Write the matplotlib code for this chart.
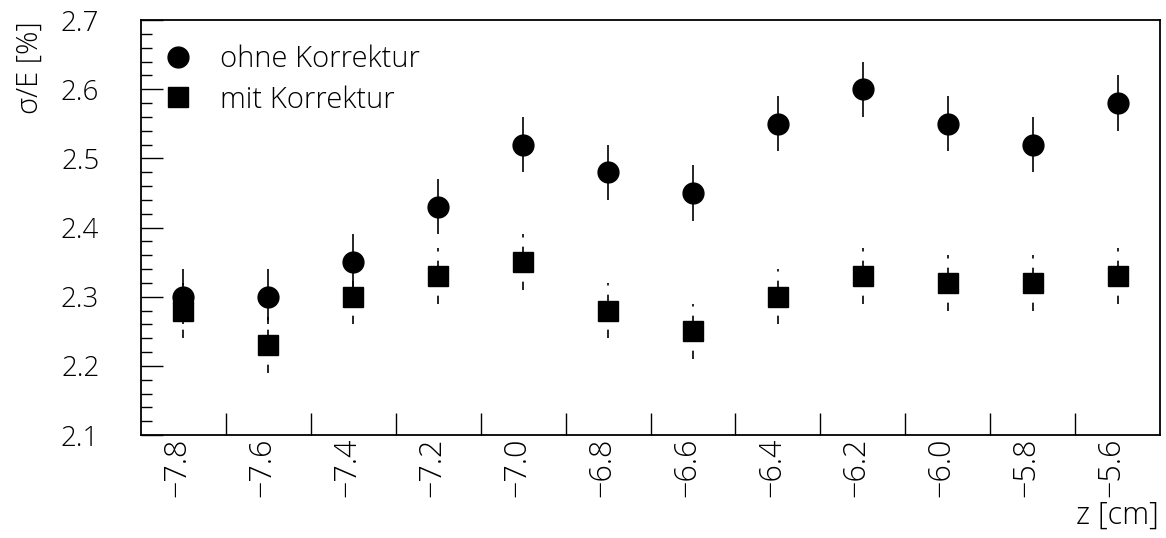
import numpy as np
import matplotlib
matplotlib.use("Agg")
import matplotlib.pyplot as plt
import matplotlib.transforms as mtransforms
from matplotlib.lines import Line2D

# bin centres in z and the two resolution series
z = [-7.8, -7.6, -7.4, -7.2, -7.0, -6.8, -6.6, -6.4, -6.2, -6.0, -5.8, -5.6]
ohne = [2.30, 2.30, 2.35, 2.43, 2.52, 2.48, 2.45, 2.55, 2.60, 2.55, 2.52, 2.58]
ohne_err = [0.04, 0.04, 0.04, 0.04, 0.04, 0.04, 0.04, 0.04, 0.04, 0.04, 0.04, 0.04]
mit = [2.28, 2.23, 2.30, 2.33, 2.35, 2.28, 2.25, 2.30, 2.33, 2.32, 2.32, 2.33]
mit_err = [0.04, 0.04, 0.04, 0.04, 0.04, 0.04, 0.04, 0.04, 0.04, 0.04, 0.04, 0.04]
z_labels = ["\u22127.8", "\u22127.6", "\u22127.4", "\u22127.2", "\u22127.0", "\u22126.8",
            "\u22126.6", "\u22126.4", "\u22126.2", "\u22126.0", "\u22125.8", "\u22125.6"]

plt.rcParams['font.family'] = ['Open Sans', 'DejaVu Sans']
plt.rcParams['font.weight'] = 300

fig = plt.figure(figsize=(11.66, 5.38), dpi=100)
ax = fig.add_axes([0.1209, 0.1914, 0.8740, 0.7714])

ms = 15
ax.errorbar(z, ohne, yerr=ohne_err, fmt='o', color='black', ms=ms,
            elinewidth=1.2, capsize=0, zorder=3)
eb = ax.errorbar(z, mit, yerr=mit_err, fmt='s', color='black', ms=ms,
                 elinewidth=1.2, capsize=0, zorder=3)
eb[2][0].set_linestyle((0, (5, 5.5)))

ax.set_xlim(-7.9, -5.5)
ax.set_ylim(2.1, 2.7)

# bin edges carry the ticks, bin centres carry the labels
edges = np.array(z[:-1]) + 0.1
ax.set_xticks(edges)
ax.set_xticklabels([])
ax.set_xticks(z, minor=True)
ax.set_xticklabels(z_labels, minor=True, rotation=90, va='top', ha='center')
ax.tick_params(axis='x', which='major', direction='in', length=16, width=1, top=False)
ax.tick_params(axis='x', which='minor', length=0, pad=2, labelsize=22)
for lab in ax.get_xticklabels(minor=True):
    lab.set_transform(lab.get_transform() + mtransforms.ScaledTranslation(-0.06, 0, fig.dpi_scale_trans))

ax.set_yticks(np.arange(2.1, 2.71, 0.1))
ax.set_yticklabels([f"{v:.1f}" for v in np.arange(2.1, 2.71, 0.1)])
ax.set_yticks(np.arange(2.1, 2.701, 0.02), minor=True)
ax.tick_params(axis='y', which='major', direction='in', length=16, width=1, labelsize=20, pad=30, right=False)
ax.tick_params(axis='y', which='minor', direction='in', length=8, width=1, right=False)

for s in ax.spines.values():
    s.set_linewidth(1.3)

fig.text(0.026, 0.96, "\u03c3/E [%]", rotation=90, ha='center', va='top', fontsize=21)
fig.text(0.994, 0.012, "z [cm]", ha='right', va='bottom', fontsize=22)

handles = [Line2D([], [], marker='o', ls='none', color='black', ms=ms),
           Line2D([], [], marker='s', ls='none', color='black', ms=ms)]
ax.legend(handles, ['ohne Korrektur', 'mit Korrektur'], loc='upper left',
          bbox_to_anchor=(-0.001, 0.99), frameon=False, fontsize=21,
          handletextpad=0.85, labelspacing=0.38, borderaxespad=0.3, handlelength=1.2)

fig.savefig("out.png", dpi=100)
